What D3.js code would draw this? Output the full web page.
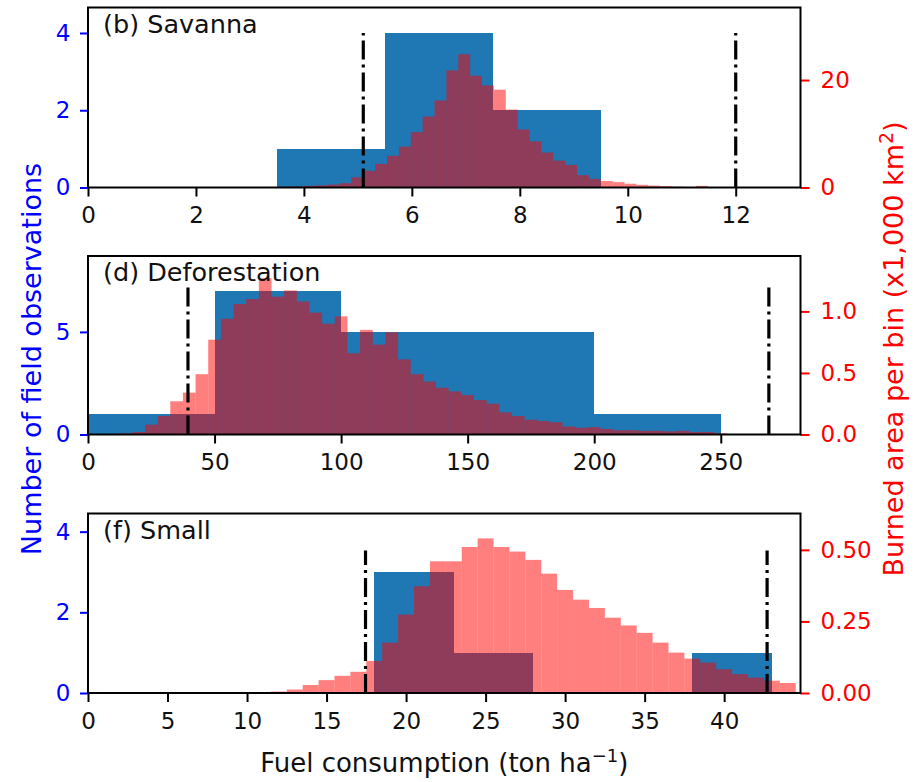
<!DOCTYPE html>
<html><head><meta charset="utf-8">
<script src="https://cdn.jsdelivr.net/npm/d3@7"></script>
<style>body{margin:0;background:#fff}svg{display:block}text{font-family:"DejaVu Sans",sans-serif}</style>
</head><body>
<svg id="chart" width="915" height="782"></svg>
<script>
// ---------- data ----------
const panelTitles = ["(b) Savanna", "(d) Deforestation", "(f) Small"];

// blue: field observations (bin edges + counts)
const savannaObsEdges = [3.5, 5.5, 7.5, 9.5];
const savannaObsCounts = [1, 4, 2];
const deforObsEdges = [0, 50, 100, 150, 200, 250];
const deforObsCounts = [1, 7, 5, 5, 1];
const smallObsEdges = [18, 23, 28, 33, 38, 43];
const smallObsCounts = [3, 1, 0, 0, 1];

// red: burned area per bin (x1,000 km2)
const savannaAreaStart = 3.34, savannaAreaWidth = 0.22;
const savannaArea = [0.1,0.15,0.2,0.3,0.4,0.55,0.8,1.9,3.1,4.4,5.9,7.6,10.3,13.2,16.2,21.8,24.8,20.8,19.0,18.2,
  14.5,10.8,8.6,6.5,5.0,4.2,2.3,1.6,1.2,1.0,0.7,0.5,0.35,0.25,0.15,0.1,0.3,0.05];
const deforAreaStart = 7.5, deforAreaWidth = 5;
const deforArea = [0.005,0.01,0.02,0.08,0.15,0.27,0.34,0.49,0.77,0.94,1.06,1.10,1.27,1.12,1.17,1.08,0.99,0.90,0.96,
  0.66,0.85,0.73,0.83,0.61,0.49,0.43,0.38,0.35,0.32,0.28,0.25,0.18,0.15,0.12,0.11,0.10,0.065,0.055,0.06,0.045,
  0.035,0.035,0.03,0.03,0.025,0.03,0.02,0.02,0.01];
const smallAreaStart = 11.5, smallAreaWidth = 1;
const smallArea = [0.005,0.012,0.028,0.045,0.06,0.074,0.112,0.176,0.274,0.373,0.46,0.46,0.51,0.54,0.51,0.494,0.465,
  0.417,0.36,0.326,0.297,0.263,0.236,0.21,0.176,0.141,0.12,0.106,0.083,0.066,0.054,0.043,0.035];

// dash-dot reference lines (x positions, height in observation units)
const savannaLines = [5.1, 12.0], savannaLineTop = 4.0;
const deforLines = [39.5, 269], deforLineTop = 7.2;
const smallLines = [17.45, 42.7], smallLineTop = 3.53;

// axis ranges and ticks
const xDomains = [[0, 13.2], [0, 281.5], [0, 44.8]];
const leftDomains = [[0, 4.66], [0, 8.7], [0, 4.45]];
const rightDomains = [[0, 33.5], [0, 1.45], [0, 0.627]];
const xTicks = [[0,2,4,6,8,10,12], [0,50,100,150,200,250], [0,5,10,15,20,25,30,35,40]];
const leftTicks = [[0,2,4], [0,5], [0,2,4]];
const rightTicks = [[0,20], [0,0.5,1.0], [0,0.25,0.5]];
const rightFormats = ["d", ".1f", ".2f"];

const xLabel = "Fuel consumption (ton ha";
const leftLabel = "Number of field observations";
const rightLabel = "Burned area per bin (x1,000 km";

// ---------- layout ----------
const svg = d3.select("#chart");
const L = 88, R = 800.5;
const tops = [7.5, 256, 513.5], heights = [180, 178.5, 179.5];
const blue = "#1f77b4";
const tickFont = 23, labelFont = 26, vLabelFont = 27, titleFont = 25.5;

const panels = [
  {edges: savannaObsEdges, counts: savannaObsCounts, aStart: savannaAreaStart, aW: savannaAreaWidth, area: savannaArea, lines: savannaLines, lineTop: savannaLineTop},
  {edges: deforObsEdges, counts: deforObsCounts, aStart: deforAreaStart, aW: deforAreaWidth, area: deforArea, lines: deforLines, lineTop: deforLineTop},
  {edges: smallObsEdges, counts: smallObsCounts, aStart: smallAreaStart, aW: smallAreaWidth, area: smallArea, lines: smallLines, lineTop: smallLineTop}
];

panels.forEach((p, i) => {
  const top = tops[i], bot = top + heights[i];
  const x = d3.scaleLinear().domain(xDomains[i]).range([L, R]);
  const yl = d3.scaleLinear().domain(leftDomains[i]).range([bot, top]);
  const yr = d3.scaleLinear().domain(rightDomains[i]).range([bot, top]);
  const g = svg.append("g");
  const clipId = "clip" + i;
  svg.append("clipPath").attr("id", clipId).append("rect")
    .attr("x", L).attr("y", top).attr("width", R - L).attr("height", bot - top);
  const plot = g.append("g").attr("clip-path", `url(#${clipId})`);

  // blue bars
  const obs = p.counts.map((c, k) => ({x0: p.edges[k], x1: p.edges[k + 1], c}));
  plot.selectAll("rect.obs").data(obs.filter(d => d.c > 0)).enter().append("rect")
    .attr("x", d => x(d.x0)).attr("width", d => x(d.x1) - x(d.x0))
    .attr("y", d => yl(d.c)).attr("height", d => yl(0) - yl(d.c))
    .attr("fill", blue).attr("shape-rendering", "crispEdges");

  // red bars
  const area = p.area.map((v, k) => ({x0: p.aStart + k * p.aW, x1: p.aStart + (k + 1) * p.aW, v}));
  plot.selectAll("rect.area").data(area).enter().append("rect")
    .attr("x", d => x(d.x0)).attr("width", d => x(d.x1) - x(d.x0) + 0.01)
    .attr("y", d => yr(d.v)).attr("height", d => yr(0) - yr(d.v))
    .attr("fill", "red").attr("fill-opacity", 0.5);

  // dash-dot lines
  plot.selectAll("line.ref").data(p.lines).enter().append("line")
    .attr("x1", d => x(d)).attr("x2", d => x(d))
    .attr("y1", yl(0)).attr("y2", yl(p.lineTop))
    .attr("stroke", "#000").attr("stroke-width", 3.2)
    .attr("stroke-dasharray", "19,5,3,5");

  // axes
  const ax = g.append("g").attr("transform", `translate(0,${bot})`)
    .call(d3.axisBottom(x).tickValues(xTicks[i]).tickSize(9).tickPadding(10.5).tickFormat(d3.format("d")));
  const al = g.append("g").attr("transform", `translate(${L},0)`)
    .call(d3.axisLeft(yl).tickValues(leftTicks[i]).tickSize(8).tickPadding(9.5).tickFormat(d3.format("d")));
  const ar = g.append("g").attr("transform", `translate(${R},0)`)
    .call(d3.axisRight(yr).tickValues(rightTicks[i]).tickSize(9).tickPadding(11).tickFormat(d3.format(rightFormats[i])));
  [ax, al, ar].forEach(a => {
    a.select(".domain").remove();
    a.selectAll("text").attr("font-size", tickFont).attr("font-family", "DejaVu Sans");
    a.selectAll("line").attr("stroke-width", 2);
  });
  ax.selectAll("text").attr("fill", "#111");
  al.selectAll("line").attr("stroke", "blue");
  al.selectAll("text").attr("fill", "blue");
  ar.selectAll("line").attr("stroke", "red");
  ar.selectAll("text").attr("fill", "red");

  // frame
  g.append("rect").attr("x", L).attr("y", top).attr("width", R - L).attr("height", bot - top)
    .attr("fill", "none").attr("stroke", "#000").attr("stroke-width", 2);

  // title
  g.append("text").attr("x", L + 15).attr("y", top + 25)
    .attr("font-size", titleFont).attr("fill", "#111").text(panelTitles[i]);
});

// axis titles
const xt = svg.append("text").attr("x", (L + R) / 2).attr("y", 772)
  .attr("text-anchor", "middle").attr("font-size", labelFont).attr("fill", "#111");
xt.append("tspan").text(xLabel);
xt.append("tspan").attr("dy", -10).attr("font-size", 18).text("\u22121");
xt.append("tspan").attr("dy", 10).text(")");

svg.append("text").attr("transform", "translate(41,359) rotate(-90)")
  .attr("text-anchor", "middle").attr("font-size", vLabelFont).attr("fill", "blue").text(leftLabel);

const rt = svg.append("text").attr("transform", "translate(903,349) rotate(-90)")
  .attr("text-anchor", "middle").attr("font-size", vLabelFont).attr("fill", "red");
rt.append("tspan").text(rightLabel);
rt.append("tspan").attr("dy", -10).attr("font-size", 19).text("2");
rt.append("tspan").attr("dy", 10).text(")");
</script>
</body></html>
